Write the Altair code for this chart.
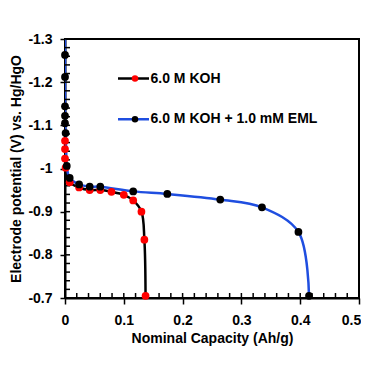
import altair as alt
import pandas as pd

koh_label = "6.0 M KOH"
eml_label = "6.0 M KOH + 1.0 mM EML"

# 6.0 M KOH (black line, red markers)
koh_x = [0.000, 0.000, 0.000, 0.001, 0.008, 0.024, 0.042, 0.060, 0.079, 0.100, 0.116, 0.130, 0.135, 0.137]
koh_y = [-1.064, -1.045, -1.023, -1.002, -0.968, -0.956, -0.950, -0.950, -0.946, -0.939, -0.926, -0.900, -0.835, -0.705]
koh_marker = [True] * 14

# 6.0 M KOH + 1.0 mM EML (blue line, black markers)
eml_x = [0.000, 0.000, 0.000, 0.000, 0.000, 0.000, 0.001, 0.002, 0.003, 0.008, 0.024, 0.042, 0.060, 0.116, 0.174, 0.264, 0.335, 0.397, 0.415]
eml_y = [-1.300, -1.263, -1.212, -1.144, -1.122, -1.105, -1.082, -1.040, -1.006, -0.978, -0.963, -0.958, -0.958, -0.947, -0.941, -0.928, -0.910, -0.853, -0.705]
eml_marker = [False, True, True, True, True, True, True, False, True, True, True, True, True, True, True, True, True, True, True]

x_major = [0, 0.1, 0.2, 0.3, 0.4, 0.5]
x_minor = [0, 0.02, 0.04, 0.06, 0.08, 0.1, 0.12, 0.14, 0.16, 0.18, 0.2, 0.22, 0.24, 0.26, 0.28, 0.3,
           0.32, 0.34, 0.36, 0.38, 0.4, 0.42, 0.44, 0.46, 0.48, 0.5]
y_major = [-1.3, -1.2, -1.1, -1.0, -0.9, -0.8, -0.7]
y_minor = [-1.3, -1.28, -1.26, -1.24, -1.22, -1.2, -1.18, -1.16, -1.14, -1.12, -1.1, -1.08, -1.06, -1.04,
           -1.02, -1.0, -0.98, -0.96, -0.94, -0.92, -0.9, -0.88, -0.86, -0.84, -0.82, -0.8, -0.78, -0.76,
           -0.74, -0.72, -0.7]
x_domain = [0, 0.5]
y_domain = [-1.3, -0.7]

rows = []
for i, (x, y, m) in enumerate(zip(koh_x, koh_y, koh_marker)):
    rows.append({"x": x, "y": y, "series": koh_label, "mseries": koh_label, "marker": m, "idx": i})
for i, (x, y, m) in enumerate(zip(eml_x, eml_y, eml_marker)):
    rows.append({"x": x, "y": y, "series": eml_label, "mseries": eml_label, "marker": m, "idx": i})
df = pd.DataFrame(rows)

W, H = 294, 259
FONT = "Liberation Sans"

xscale = alt.Scale(domain=x_domain, nice=False, zero=False)
yscale = alt.Scale(domain=y_domain, nice=False, zero=False, reverse=True)

label_expr = "(datum.value < 0 ? '-' : '') + format(abs(datum.value), '~g')"


def x_axis():
    return alt.Axis(orient="bottom", values=x_major, labelExpr=label_expr, tickSize=6, tickWidth=1.5,
                    tickColor="black", domainColor="black", domainWidth=2, labelFontSize=14,
                    labelFontWeight="bold", labelColor="black", labelFont=FONT, labelPadding=9,
                    labelOffset={"condition": {"test": "datum.value >= 0.5", "value": -8}, "value": 0},
                    labelFlush=False, grid=False, title="Nominal Capacity (Ah/g)", titleFontSize=14,
                    titleFontWeight="bold", titleFont=FONT, titleColor="black", titlePadding=4)


def y_axis():
    return alt.Axis(orient="left", values=y_major, labelExpr=label_expr, tickSize=5, tickWidth=1.5,
                    tickColor="black", domainColor="black", domainWidth=2, labelFontSize=14,
                    labelFontWeight="bold", labelColor="black", labelFont=FONT, labelPadding=8,
                    labelFlush=False, grid=False, title="Electrode potential (V) vs. Hg/HgO",
                    titleFontSize=14, titleFontWeight="bold", titleFont=FONT, titleColor="black",
                    titlePadding=4)


lines = alt.Chart(df).mark_line(strokeWidth=2.5, interpolate="catmull-rom", clip=True).encode(
    x=alt.X("x:Q", scale=xscale, axis=x_axis()),
    y=alt.Y("y:Q", scale=yscale, axis=y_axis()),
    color=alt.Color("series:N",
                    scale=alt.Scale(domain=[koh_label, eml_label], range=["#000000", "#1f4ee0"]),
                    legend=alt.Legend(orient="none", legendX=51.5, legendY=29.5, title=None,
                                      symbolType="stroke", symbolSize=961, symbolStrokeWidth=2.5,
                                      labelFontSize=14, labelFontWeight="bold", labelFont=FONT,
                                      labelColor="black", labelOffset=0, labelLimit=0, clipHeight=20,
                                      rowPadding=20.7, padding=0, symbolOffset=0)),
    order=alt.Order("idx:Q"),
)

# inward minor ticks along the bottom and left edges
x_ticks_in = alt.Chart(pd.DataFrame({"v": x_minor})).mark_tick(
    orient="vertical", size=5, thickness=1.5, color="black", opacity=1
).encode(
    x=alt.X("v:Q", scale=xscale, axis=x_axis()),
    y=alt.Y(datum=y_domain[1], scale=yscale, axis=y_axis()),
    yOffset=alt.value(-2.5),
)
y_ticks_in = alt.Chart(pd.DataFrame({"v": y_minor})).mark_tick(
    orient="horizontal", size=5, thickness=1.5, color="black", opacity=1
).encode(
    y=alt.Y("v:Q", scale=yscale, axis=y_axis()),
    x=alt.X(datum=x_domain[0], scale=xscale, axis=x_axis()),
    xOffset=alt.value(2.5),
)

points = alt.Chart(df).transform_filter("datum.marker").mark_circle(size=60, opacity=1).encode(
    x=alt.X("x:Q", scale=xscale, axis=x_axis()),
    y=alt.Y("y:Q", scale=yscale, axis=y_axis()),
    fill=alt.Fill("mseries:N", scale=alt.Scale(range=["#ff0000", "#000000"]),
                  legend=alt.Legend(orient="none", legendX=63, legendY=29.5, title=None,
                                    symbolType="circle", symbolSize=42, symbolStrokeWidth=0,
                                    labelFontSize=14, labelExpr="''", clipHeight=20,
                                    rowPadding=20.7, padding=0, symbolOffset=0)),
)

chart = alt.layer(lines, x_ticks_in, y_ticks_in, points).properties(
    width=W, height=H,
    autosize=alt.AutoSizeParams(type="none"),
    padding={"left": 57, "top": 31, "right": 2, "bottom": 60},
).configure(font=FONT).configure_view(stroke="black", strokeWidth=2)

chart.save("out.html", embed_options={"renderer": "svg", "actions": False})
